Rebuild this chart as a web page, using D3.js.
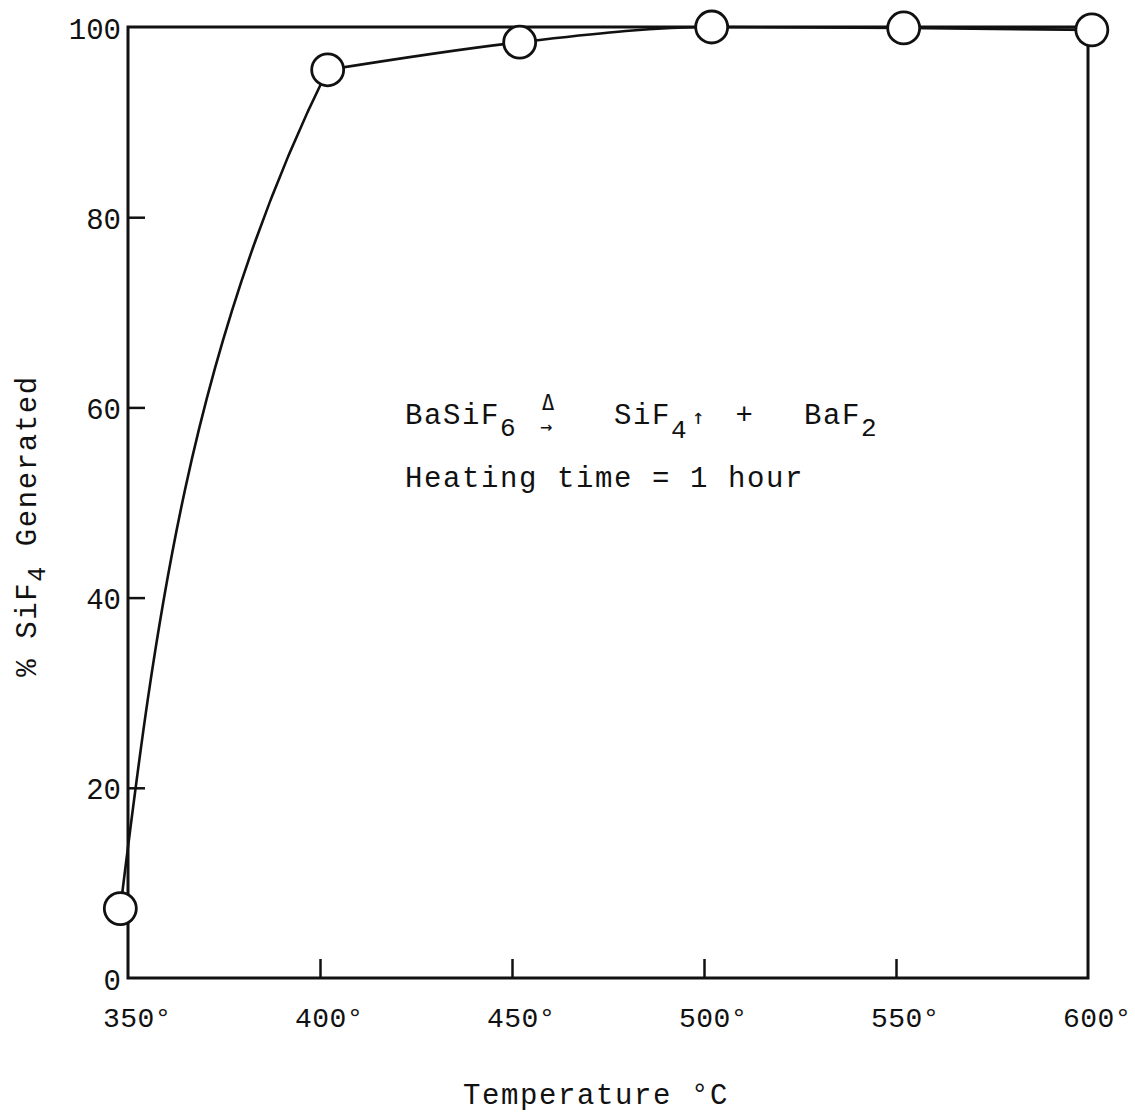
<!DOCTYPE html>
<html>
<head>
<meta charset="utf-8">
<script src="https://cdn.jsdelivr.net/npm/d3@7"></script>
<style>
  body { margin: 0; background: #fff; }
  svg { display: block; }
  text { font-family: "Liberation Mono", "DejaVu Sans Mono", monospace; fill: #111; }
  text.sym { font-family: "DejaVu Sans Mono", "DejaVu Sans", monospace; }
</style>
</head>
<body>
<svg id="drawing_region"></svg>
<script>
// values
const temperatures = [348, 402, 452, 502, 552, 601];
const sif4_percent = [7.3, 95.5, 98.4, 100, 99.9, 99.7];
const x_ticks = [350, 400, 450, 500, 550, 600];
const y_ticks = [0, 20, 40, 60, 80, 100];

const data = temperatures.map((t, i) => ({ t: t, v: sif4_percent[i] }));

const config = {
    parent: '#drawing_region',
    width: 1135,
    height: 1113,
    left: 128, right: 1088, top: 27, bottom: 978
};

const svg = d3.select(config.parent)
    .attr('width', config.width)
    .attr('height', config.height);

const x = d3.scaleLinear().domain([350, 600]).range([config.left, config.right]);
const y = d3.scaleLinear().domain([0, 100]).range([config.bottom, config.top]);

// frame
svg.append('rect')
    .attr('x', x(350)).attr('y', y(100))
    .attr('width', x(600) - x(350)).attr('height', y(0) - y(100))
    .attr('fill', 'none')
    .attr('stroke', '#111')
    .attr('stroke-width', 3);

// inward ticks
const x_axis = svg.append('g')
    .attr('transform', `translate(0,${y(0)})`)
    .call(d3.axisBottom(x).tickValues(x_ticks.slice(1, -1)).tickSize(-19).tickFormat(''));
const y_axis = svg.append('g')
    .attr('transform', `translate(${x(350)},0)`)
    .call(d3.axisLeft(y).tickValues(y_ticks.slice(1, -1)).tickSize(-17).tickFormat(''));
[x_axis, y_axis].forEach(g => {
    g.select('.domain').remove();
    g.selectAll('line').attr('stroke', '#111').attr('stroke-width', 2.5);
});

// tick labels
svg.selectAll('.xlabel')
    .data(x_ticks)
    .enter()
    .append('text')
    .attr('x', d => x(d) - 25)
    .attr('y', 1027)
    .style('font-size', '28px')
    .style('letter-spacing', '0.4px')
    .text(d => d + '°');

svg.selectAll('.ylabel')
    .data(y_ticks)
    .enter()
    .append('text')
    .attr('x', 121)
    .attr('y', d => y(d))
    .attr('dy', '0.4em')
    .attr('text-anchor', 'end')
    .style('font-size', '29px')
    .text(d => d);

// curve: steep rise drawn x-as-function-of-y, the flat part y-as-function-of-x
svg.append('clipPath').attr('id', 'rise_clip')
    .append('rect')
    .attr('x', 0).attr('y', 0)
    .attr('width', x(data[1].t)).attr('height', config.height);

const rise = d3.line().x(d => x(d.t)).y(d => y(d.v)).curve(d3.curveMonotoneY);
const plateau = d3.line().x(d => x(d.t)).y(d => y(d.v)).curve(d3.curveMonotoneX);

svg.append('path')
    .attr('d', rise(data.slice(0, 3)))
    .attr('clip-path', 'url(#rise_clip)')
    .attr('fill', 'none')
    .attr('stroke', '#111')
    .attr('stroke-width', 2.6);

svg.append('path')
    .attr('d', plateau(data.slice(1)))
    .attr('fill', 'none')
    .attr('stroke', '#111')
    .attr('stroke-width', 2.6);

svg.selectAll('circle')
    .data(data)
    .enter()
    .append('circle')
    .attr('cx', d => x(d.t))
    .attr('cy', d => y(d.v))
    .attr('r', 16)
    .attr('fill', '#fff')
    .attr('stroke', '#111')
    .attr('stroke-width', 2.8);

// annotation, laid out on a typewriter grid
const col = c => 405 + c * 19;
const note = svg.append('g');
const pieces = [
    { s: 'BaSiF', c: 0, y: 424, size: 29 },
    { s: '6', c: 5, y: 436, size: 26 },
    { s: 'Δ', c: 7.2, y: 410, size: 21, sym: true },
    { s: '→', c: 7.1, y: 433, size: 20, sym: true },
    { s: 'SiF', c: 11, y: 424, size: 29 },
    { s: '4', c: 14, y: 438, size: 26 },
    { s: '↑', c: 15.1, y: 424, size: 21, sym: true },
    { s: '+', c: 17.4, y: 424, size: 29 },
    { s: 'BaF', c: 21, y: 424, size: 29 },
    { s: '2', c: 24, y: 436, size: 26 },
    { s: 'Heating time = 1 hour', c: 0, y: 487, size: 29 }
];
note.selectAll('text')
    .data(pieces)
    .enter()
    .append('text')
    .attr('class', d => d.sym ? 'sym' : null)
    .attr('x', d => col(d.c))
    .attr('y', d => d.y)
    .attr('xml:space', 'preserve')
    .style('font-size', d => d.size + 'px')
    .style('letter-spacing', d => d.size === 29 ? '1.6px' : '0px')
    .text(d => d.s);

// axis titles
svg.append('text')
    .attr('x', 463)
    .attr('y', 1104)
    .style('font-size', '29px')
    .style('letter-spacing', '1.6px')
    .attr('xml:space', 'preserve')
    .text('Temperature °C');

const ytitle = svg.append('text')
    .attr('transform', 'translate(36,526) rotate(-90)')
    .attr('text-anchor', 'middle')
    .style('font-size', '29px')
    .style('letter-spacing', '1.6px')
    .attr('xml:space', 'preserve');
ytitle.append('tspan').text('% SiF');
ytitle.append('tspan').attr('dy', 9).style('font-size', '25px').text('4');
ytitle.append('tspan').attr('dy', -9).text(' Generated');
</script>
</body>
</html>
